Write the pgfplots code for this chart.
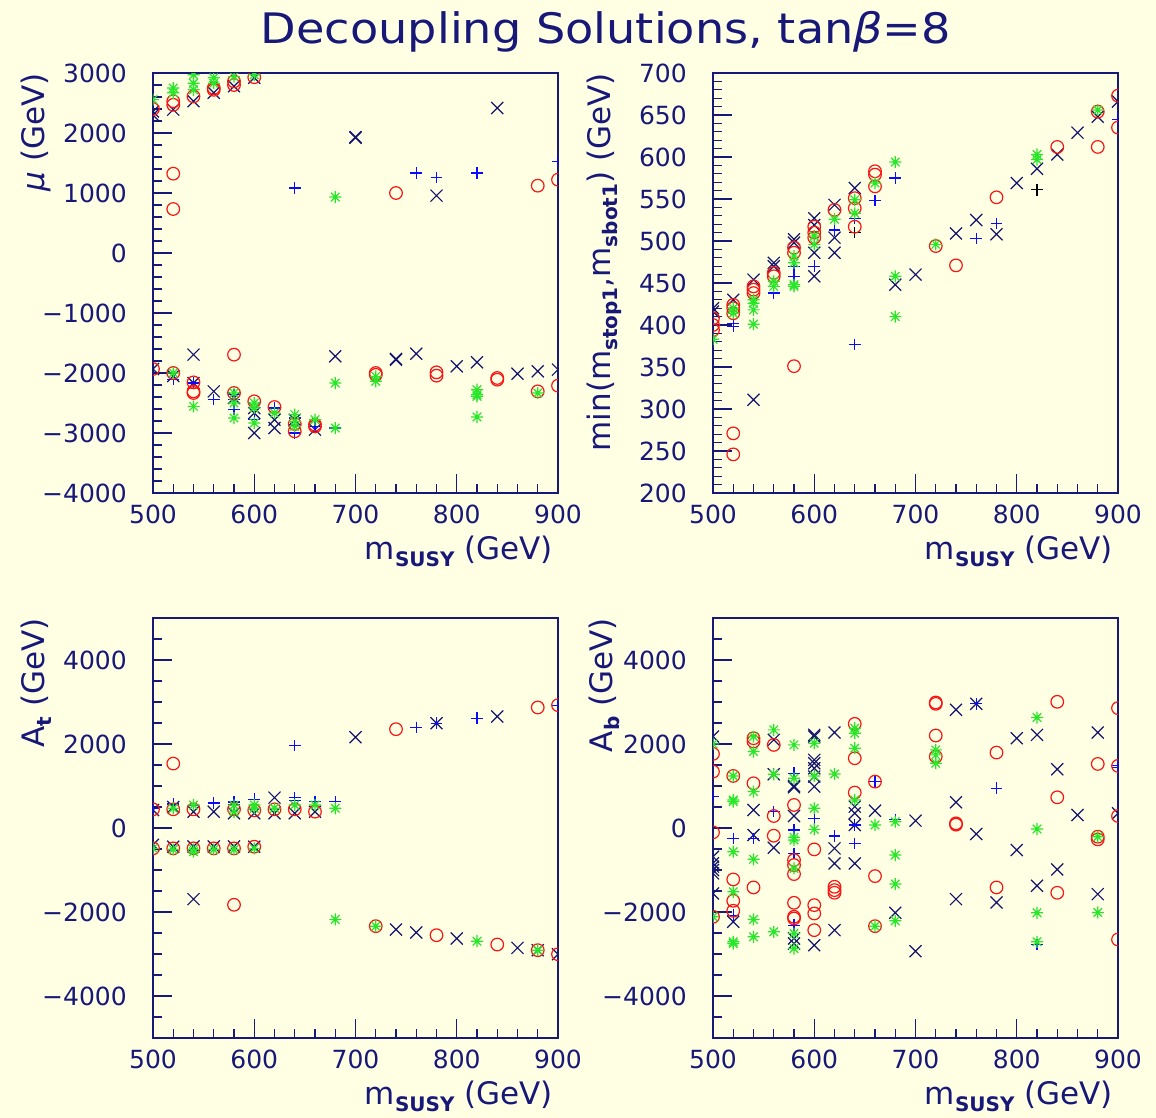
\documentclass[border=0pt]{standalone}
\usepackage{fontspec}
\setmainfont{DejaVu Sans}
\newfontfamily\titlefont[FakeStretch=1.1]{DejaVu Sans}
\usepackage{pgfplots}
\pgfplotsset{compat=1.18}
\definecolor{bg}{RGB}{255,255,228}
\definecolor{navy}{RGB}{24,24,120}
\definecolor{navyx}{RGB}{20,20,110}
\definecolor{mblue}{RGB}{10,10,255}
\definecolor{mred}{RGB}{250,20,20}
\definecolor{mgreen}{RGB}{40,230,40}
\pgfdeclareplotmark{star8}{%
 \pgfpathmoveto{\pgfqpoint{-\pgfplotmarksize}{0pt}}\pgfpathlineto{\pgfqpoint{\pgfplotmarksize}{0pt}}%
 \pgfpathmoveto{\pgfqpoint{0pt}{-\pgfplotmarksize}}\pgfpathlineto{\pgfqpoint{0pt}{\pgfplotmarksize}}%
 \pgfpathmoveto{\pgfqpoint{-.7071\pgfplotmarksize}{-.7071\pgfplotmarksize}}\pgfpathlineto{\pgfqpoint{.7071\pgfplotmarksize}{.7071\pgfplotmarksize}}%
 \pgfpathmoveto{\pgfqpoint{-.7071\pgfplotmarksize}{.7071\pgfplotmarksize}}\pgfpathlineto{\pgfqpoint{.7071\pgfplotmarksize}{-.7071\pgfplotmarksize}}%
 \pgfusepathqstroke}
\newcommand{\sub}[1]{\raisebox{-0.23em}{\fontsize{20}{20}\selectfont\bfseries #1}}
\pgfplotsset{
 panel/.style={
  scale only axis, width=405pt, height=420pt,
  xmin=500, xmax=900,
  xtick={500,600,700,800,900}, xticklabels={500,600,700,800,900},
  minor xtick={520,540,560,580,620,640,660,680,720,740,760,780,820,840,860,880},
  tick pos=left, tick align=inside,
  major tick length=19pt, minor tick length=9pt,
  axis line style={navy, line width=1.5pt},
  tick style={navy, line width=1.3pt},
  tick label style={font=\fontsize{25}{25}\selectfont, text=navy, inner sep=0pt},
  xticklabel style={yshift=-12pt},
  yticklabel style={xshift=-26pt},
  clip marker paths=true,
  xlabel={m\sub{SUSY} (GeV)},
  xlabel style={at={(axis description cs:0.988,-0.138)}, anchor=east, font=\fontsize{31}{31}\selectfont, text=navy, inner sep=0pt},
  ylabel style={anchor=east, font=\fontsize{31}{31}\selectfont, text=navy, inner sep=0pt},
 },
 px/.style={only marks, mark=x, mark size=8.5pt, color=navyx, line width=1.2pt},
 pp/.style={only marks, mark=+, mark size=5.8pt, color=mblue, line width=1.2pt},
 pk/.style={only marks, mark=+, mark size=5.8pt, color=black, line width=1.2pt},
 po/.style={only marks, mark=o, mark size=6.3pt, color=mred, line width=1.2pt},
 ps/.style={only marks, mark=star8, mark size=6pt, color=mgreen, line width=1.2pt},
}
\begin{document}
\begin{tikzpicture}
\fill[bg] (0,0) rectangle (1156pt,-1118pt);
\node[anchor=base, text=navy, font=\titlefont\fontsize{42}{42}\selectfont] at (606pt,-44pt) {Decoupling Solutions, tan\textit{β}=8};

% ---------- top left: mu ----------
\begin{axis}[panel, at={(153pt,-493pt)}, anchor=south west,
  ymin=-4000, ymax=3000,
  ytick={-4000,-3000,-2000,-1000,0,1000,2000,3000},
  yticklabels={−4000,−3000,−2000,−1000,0,1000,2000,3000},
  minor ytick={-3800,-3600,-3400,-3200,-2800,-2600,-2400,-2200,-1800,-1600,-1400,-1200,-800,-600,-400,-200,200,400,600,800,1200,1400,1600,1800,2200,2400,2600,2800},
  ylabel={\textit{μ} (GeV)},
  ylabel style={at={(axis description cs:-0.289,1)}}]
\addplot[px] coordinates {(500,2300) (500,2360) (500,-1933) (520,2390) (520,-2050) (540,2530) (540,-1694) (540,-2167) (560,2670) (560,-2306) (580,2780) (580,-2417) (600,2920) (600,-2583) (600,-2667) (600,-3000) (620,-2778) (620,-2917) (640,-2780) (660,-2944) (680,-1722) (700,1933) (700,1920) (740,-1778) (740,-1765) (760,-1678) (780,956) (800,-1889) (820,-1822) (840,2417) (860,-2011) (880,-1972) (900,-1944)};
\addplot[pp] coordinates {(520,-2111) (540,-2167) (560,-2444) (580,-2361) (580,-2611) (580,-2444) (600,-2778) (620,-2583) (640,-2750) (640,-2861) (640,-3000) (640,1083) (660,-2889) (680,-2917) (760,1333) (780,1261) (820,1333) (900,1528)};
\addplot[po] coordinates {(500,2400) (500,-1933) (520,2530) (520,2470) (520,1322) (520,733) (520,-2000) (540,2610) (540,-2156) (540,-2306) (540,-2333) (560,2750) (560,2720) (580,2860) (580,2800) (580,-1694) (580,-2333) (600,2930) (600,-2472) (620,-2567) (640,-2972) (640,-2850) (660,-2861) (660,-2889) (720,-2000) (720,-2030) (740,1000) (780,-1989) (780,-2044) (840,-2083) (840,-2111) (880,1122) (880,-2306) (900,1222) (900,-2211)};
\addplot[ps] coordinates {(500,2556) (520,2750) (520,2670) (520,-2000) (540,2970) (540,2830) (540,2720) (540,-2556) (560,2920) (560,2830) (580,2940) (580,-2333) (580,-2750) (580,-2500) (600,2970) (600,-2500) (600,-2583) (600,-2833) (620,-2667) (640,-2694) (640,-2806) (640,-2889) (660,-2778) (680,933) (680,-2167) (680,-2917) (720,-2056) (720,-2139) (820,-2278) (820,-2361) (820,-2389) (820,-2733) (880,-2333)};
\end{axis}

% ---------- top right: min(mstop,msbot) ----------
\begin{axis}[panel, at={(713pt,-493pt)}, anchor=south west,
  ymin=200, ymax=700,
  ytick={200,250,300,350,400,450,500,550,600,650,700},
  yticklabels={200,250,300,350,400,450,500,550,600,650,700},
  minor ytick={210,220,230,240,260,270,280,290,310,320,330,340,360,370,380,390,410,420,430,440,460,470,480,490,510,520,530,540,560,570,580,590,610,620,630,640,660,670,680,690},
  ylabel={min(m\sub{stop1},m\sub{sbot1}) (GeV)},
  ylabel style={at={(axis description cs:-0.269,1)}}]
\addplot[px] coordinates {(500,416) (500,420) (520,430) (540,454) (540,311) (560,474) (560,470) (580,502) (580,498) (600,527) (600,519) (600,486) (600,458) (620,543) (620,504) (620,486) (640,563) (680,448) (700,460) (740,509) (760,525) (780,508) (800,569) (820,586) (840,603) (860,629) (880,648) (900,666)};
\addplot[pp] coordinates {(520,402) (520,398) (540,426) (560,438) (580,470) (580,458) (600,470) (620,513) (640,527) (640,377) (660,548) (680,575) (760,503) (780,521) (900,645)};
\addplot[pk] coordinates {(640,510) (820,561)};
\addplot[po] coordinates {(500,408) (500,400) (500,394) (520,424) (520,420) (520,414) (520,271) (520,246) (540,446) (540,442) (540,438) (560,462) (560,458) (580,492) (580,486) (580,351) (600,517) (600,510) (600,504) (620,537) (640,551) (640,539) (640,517) (660,583) (660,579) (660,565) (720,494) (740,471) (780,552) (840,612) (880,654) (880,612) (900,673) (900,635)};
\addplot[ps] coordinates {(500,383) (520,420) (520,414) (540,430) (540,426) (540,418) (540,401) (560,452) (560,446) (580,482) (580,474) (580,448) (580,446) (600,506) (600,496) (620,526) (640,549) (640,533) (660,569) (680,594) (680,458) (680,410) (720,496) (820,603) (820,597) (880,656)};
\end{axis}

% ---------- bottom left: At ----------
\begin{axis}[panel, at={(153pt,-1038pt)}, anchor=south west,
  ymin=-5000, ymax=5000,
  ytick={-4000,-2000,0,2000,4000},
  yticklabels={−4000,−2000,0,2000,4000},
  minor ytick={-4500,-3500,-3000,-2500,-1500,-1000,-500,500,1000,1500,2500,3000,3500,4500},
  ylabel={A\sub{t} (GeV)},
  ylabel style={at={(axis description cs:-0.289,1)}}]
\addplot[px] coordinates {(500,429) (500,-400) (520,500) (520,-445) (540,389) (540,-440) (540,-1693) (560,389) (560,-440) (580,350) (580,-440) (600,350) (600,-445) (620,723) (620,350) (640,350) (660,389) (700,2162) (740,-2417) (760,-2488) (780,2496) (800,-2631) (840,2655) (860,-2854) (880,-2909) (900,-3005)};
\addplot[pp] coordinates {(500,470) (520,572) (540,540) (560,596) (580,620) (580,560) (600,684) (640,731) (640,652) (660,628) (680,628) (640,1963) (760,2393) (780,2496) (820,2615) (900,2925)};
\addplot[po] coordinates {(500,445) (500,-485) (520,445) (520,-485) (540,445) (540,-485) (560,-485) (580,445) (580,-485) (600,420) (600,-445) (620,445) (640,445) (660,390) (520,1534) (580,-1828) (720,-2337) (740,2353) (780,-2552) (840,-2774) (880,2870) (880,-2909) (900,2925) (900,-3005)};
\addplot[ps] coordinates {(500,-485) (520,470) (520,-510) (540,548) (540,-509) (540,-564) (560,-510) (580,540) (580,380) (580,-510) (600,548) (600,470) (600,-485) (620,470) (640,548) (660,548) (680,469) (680,-2178) (720,-2337) (820,-2695) (880,-2909)};
\end{axis}

% ---------- bottom right: Ab ----------
\begin{axis}[panel, at={(713pt,-1038pt)}, anchor=south west,
  ymin=-5000, ymax=5000,
  ytick={-4000,-2000,0,2000,4000},
  yticklabels={−4000,−2000,0,2000,4000},
  minor ytick={-4500,-3500,-3000,-2500,-1500,-1000,-500,500,1000,1500,2500,3000,3500,4500},
  ylabel={A\sub{b} (GeV)},
  ylabel style={at={(axis description cs:-0.269,1)}}]
\addplot[px] coordinates {(500,2178) (500,-682) (500,-840) (500,-920) (500,-1000) (500,-1080) (500,-1558) (520,-2234) (540,429) (540,-167) (560,2099) (560,1280) (560,-469) (580,1002) (580,970) (580,286) (580,-2630) (580,-2750) (600,2218) (600,2178) (600,1622) (600,1542) (600,1423) (600,1224) (600,986) (600,-2790) (620,2273) (620,-485) (620,-843) (620,-2432) (640,509) (640,350) (640,72) (640,-843) (660,413) (680,-2019) (700,175) (700,-2933) (740,2814) (740,612) (740,-1693) (760,2957) (760,-143) (780,-1773) (800,2138) (800,-525) (820,2218) (820,-1375) (840,1399) (840,-986) (860,310) (880,2273) (880,-1574) (900,350)};
\addplot[pp] coordinates {(500,747) (520,-246) (520,-2075) (540,-246) (560,1280) (560,390) (580,1304) (580,-48) (580,-604) (580,-2313) (600,231) (620,-191) (640,72) (640,-366) (660,1105) (680,207) (760,2957) (780,946) (820,-2774) (900,1479) (900,1447)};
\addplot[po] coordinates {(500,1765) (500,1343) (500,-103) (500,-2114) (520,1240) (520,-1224) (520,-1733) (520,-1971) (540,2138) (540,2059) (540,1065) (540,-1415) (560,1979) (560,286) (560,-183) (580,549) (580,-763) (580,-882) (580,-1097) (580,-1781) (580,-2114) (580,-2154) (600,-509) (600,-1836) (600,-2035) (600,-2432) (620,-1399) (620,-1479) (620,-1542) (640,2480) (640,1661) (640,843) (660,1105) (660,-1145) (660,-2337) (720,2989) (720,2957) (720,2202) (720,1701) (740,111) (740,80) (780,1796) (780,-1415) (840,3005) (840,731) (840,-1542) (880,1526) (880,-207) (880,-270) (900,2854) (900,1479) (900,286) (900,-2655)};
\addplot[ps] coordinates {(500,2003) (500,-2114) (520,1240) (520,668) (520,628) (520,-564) (520,-1518) (520,-2710) (520,-2750) (540,2178) (540,1820) (540,867) (540,-746) (540,-2178) (540,-2591) (560,2337) (560,1280) (560,-2472) (580,1979) (580,1184) (580,-223) (580,-286) (580,-962) (580,-2512) (580,-2870) (600,2019) (600,1240) (600,469) (600,-32) (620,1288) (640,2377) (640,2258) (640,1900) (640,668) (660,72) (660,-2337) (680,151) (680,-644) (680,-1335) (680,-2210) (720,1860) (720,1741) (720,1542) (820,2631) (820,-24) (820,-2019) (820,-2710) (880,-207) (880,-2011)};
\end{axis}
\pgfresetboundingbox
\useasboundingbox (0,0) rectangle (1156pt,-1118pt);
\end{tikzpicture}
\end{document}
